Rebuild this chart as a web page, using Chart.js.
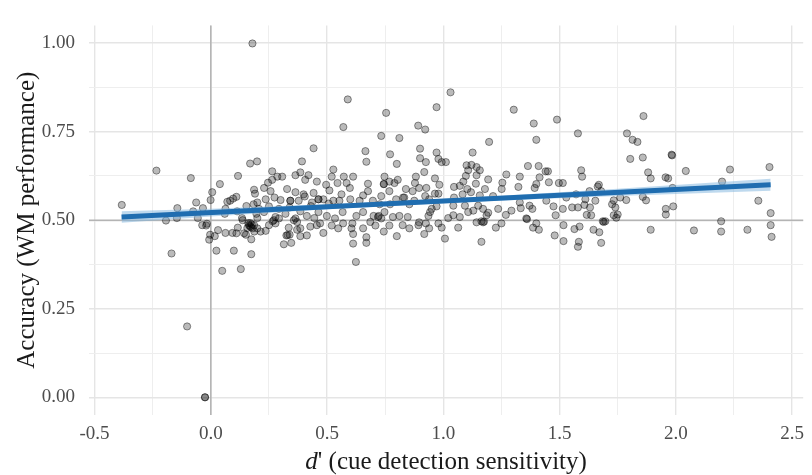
<!DOCTYPE html>
<html>
<head>
<meta charset="utf-8">
<script src="https://cdn.jsdelivr.net/npm/chart.js@4"></script>
<style>
  html, body { margin: 0; padding: 0; background: #fff; }
  #wrap { width: 812px; height: 475px; }
</style>
</head>
<body>
<div id="wrap"><canvas id="chart" width="812" height="475"></canvas></div>
<script>
// ---- data: [d', accuracy] per participant ----
const participants = [
  [-0.383,0.543],[-0.234,0.640],[-0.086,0.619],[-0.144,0.534],[-0.193,0.499],[-0.146,0.506],[-0.063,0.550],[-0.076,0.525],
  [-0.034,0.534],[-0.056,0.506],[-0.037,0.486],[-0.017,0.490],[-0.020,0.485],[0.006,0.579],[-0.001,0.557],[0.039,0.602],
  [-0.169,0.406],[0.024,0.414],[0.099,0.414],[0.174,0.404],[0.049,0.357],[0.129,0.362],[-0.003,0.459],[-0.007,0.445],
  [0.017,0.455],[0.031,0.472],[0.063,0.464],[0.093,0.464],[0.110,0.463],[0.116,0.479],[0.143,0.463],[0.151,0.459],
  [0.174,0.446],[0.187,0.468],[0.164,0.486],[0.173,0.480],[0.180,0.477],[0.161,0.492],[0.134,0.506],[0.137,0.500],
  [0.113,0.525],[0.060,0.518],[0.071,0.552],[0.083,0.555],[0.096,0.561],[0.110,0.566],[0.063,0.532],[0.117,0.625],
  [0.169,0.660],[0.199,0.666],[0.186,0.586],[0.190,0.575],[0.184,0.545],[0.153,0.540],[0.200,0.550],[0.196,0.518],
  [0.200,0.506],[0.186,0.486],[0.200,0.477],[0.168,0.483],[0.176,0.488],[0.170,0.492],[0.157,0.478],
  [0.179,0.999],[-0.102,0.200],[-0.025,0.000],[-0.025,0.000],
  [0.589,0.841],[0.754,0.803],[0.570,0.763],[0.892,0.767],[0.922,0.756],
  [0.733,0.738],[0.811,0.732],[0.442,0.703],[0.392,0.666],[0.665,0.695],[0.669,0.665],[0.771,0.686],[0.800,0.659],
  [0.900,0.702],[0.900,0.675],[0.925,0.664],[0.918,0.636],[0.264,0.638],
  [0.286,0.623],[0.307,0.623],[0.246,0.606],[0.264,0.614],[0.229,0.591],[0.364,0.627],[0.385,0.635],[0.406,0.614],
  [0.420,0.627],[0.456,0.609],[0.527,0.643],[0.520,0.623],[0.572,0.623],[0.612,0.623],[0.584,0.605],[0.545,0.605],
  [0.496,0.600],[0.510,0.584],[0.598,0.591],[0.676,0.603],[0.676,0.582],[0.747,0.623],[0.744,0.602],[0.768,0.609],
  [0.790,0.605],[0.804,0.614],[0.768,0.582],[0.839,0.588],[0.882,0.623],[0.878,0.605],[0.868,0.582],[0.896,0.591],
  [0.927,0.591],[0.922,0.568],[0.827,0.564],[0.733,0.568],
  [0.236,0.559],[0.257,0.582],[0.274,0.564],[0.300,0.557],[0.328,0.588],[0.342,0.555],[0.364,0.579],[0.378,0.555],
  [0.399,0.573],[0.442,0.577],[0.463,0.559],[0.435,0.550],[0.484,0.559],[0.527,0.555],[0.562,0.573],[0.553,0.555],
  [0.600,0.559],[0.640,0.555],[0.655,0.570],[0.697,0.555],[0.726,0.545],[0.771,0.545],[0.797,0.559],[0.832,0.564],
  [0.854,0.545],[0.875,0.555],[0.939,0.559],
  [0.207,0.532],[0.229,0.523],[0.250,0.539],[0.278,0.509],[0.293,0.532],[0.321,0.518],[0.339,0.536],[0.364,0.505],
  [0.371,0.495],[0.385,0.525],[0.413,0.512],[0.445,0.506],[0.463,0.523],[0.470,0.491],[0.499,0.512],[0.534,0.505],
  [0.567,0.523],[0.569,0.491],[0.609,0.491],[0.626,0.512],[0.655,0.523],[0.686,0.495],[0.722,0.512],[0.747,0.523],
  [0.783,0.509],[0.811,0.512],[0.847,0.509],[0.896,0.494],[0.925,0.491],[0.936,0.512],
  [0.236,0.470],[0.214,0.468],[0.250,0.486],[0.335,0.479],[0.371,0.473],[0.339,0.459],[0.325,0.457],[0.385,0.455],
  [0.413,0.457],[0.456,0.486],[0.484,0.464],[0.314,0.432],[0.346,0.436],[0.385,0.477],[0.428,0.482],[0.520,0.485],
  [0.548,0.477],[0.605,0.477],[0.612,0.461],[0.655,0.477],[0.669,0.452],[0.669,0.436],[0.612,0.434],[0.624,0.382],
  [0.708,0.485],[0.744,0.468],[0.768,0.485],[0.800,0.455],[0.825,0.486],[0.854,0.477],[0.893,0.486],[0.918,0.461],
  [0.939,0.477],[0.271,0.500],[0.293,0.505],[0.278,0.491],[0.342,0.555],[0.463,0.559],[0.719,0.509],[0.744,0.602],
  [0.266,0.497],[0.330,0.458],[0.357,0.500],[0.404,0.567],[0.430,0.540],[0.507,0.547],[0.700,0.512],[0.733,0.505],
  [1.031,0.861],[0.971,0.819],[1.303,0.812],[1.389,0.773],[1.489,0.784],[1.579,0.745],[1.400,0.727],[1.197,0.721],
  [0.971,0.691],[0.979,0.673],[0.993,0.664],[1.011,0.664],[1.126,0.691],[1.100,0.655],[1.121,0.656],[1.143,0.650],
  [1.157,0.641],[1.107,0.641],[1.097,0.625],[1.143,0.627],[1.086,0.609],[1.071,0.597],[1.046,0.594],[1.103,0.588],
  [1.119,0.579],[1.140,0.603],[1.179,0.588],[1.193,0.615],[0.964,0.618],[0.983,0.600],[0.964,0.575],[0.979,0.575],
  [1.046,0.564],[1.083,0.573],[1.157,0.570],[1.214,0.568],[1.254,0.606],[1.271,0.629],[1.251,0.588],[1.329,0.623],
  [1.323,0.594],[1.364,0.653],[1.410,0.653],[1.440,0.638],[1.450,0.638],[1.414,0.621],[1.400,0.602],[1.393,0.591],
  [1.454,0.607],[1.497,0.605],[1.514,0.605],[1.593,0.641],[1.597,0.623],[1.571,0.573],[1.629,0.582],[1.664,0.595],
  [1.679,0.582],[1.529,0.564],[1.611,0.559],
  [0.950,0.532],[0.971,0.539],[0.943,0.523],[1.043,0.541],[1.043,0.514],[1.021,0.506],[1.071,0.509],[1.093,0.541],
  [1.107,0.523],[1.129,0.527],[1.150,0.541],[1.171,0.532],[1.186,0.514],[1.164,0.497],[1.193,0.521],[1.236,0.532],
  [1.269,0.515],[1.293,0.527],[1.329,0.550],[1.333,0.534],[1.371,0.541],[1.383,0.532],[1.357,0.505],[1.360,0.503],
  [1.443,0.555],[1.474,0.539],[1.483,0.514],[1.514,0.532],[1.554,0.536],[1.579,0.536],[1.607,0.543],[1.631,0.536],
  [1.636,0.514],[1.617,0.515],[1.654,0.555],[1.669,0.600],
  [0.979,0.491],[0.993,0.479],[1.007,0.448],[1.064,0.479],[1.143,0.494],[1.171,0.494],[1.175,0.496],[1.164,0.439],
  [1.226,0.479],[1.250,0.491],[1.386,0.479],[1.400,0.491],[1.411,0.473],[1.479,0.457],[1.517,0.486],[1.517,0.441],
  [1.564,0.475],[1.586,0.482],[1.583,0.439],[1.579,0.425],[1.646,0.473],[1.671,0.466],[1.679,0.436],[1.686,0.497],
  [1.861,0.794],[1.790,0.745],[1.814,0.727],[1.835,0.721],[1.982,0.685],[1.984,0.683],[1.804,0.673],[1.858,0.677],
  [1.881,0.635],[1.892,0.618],[1.956,0.621],[1.967,0.618],[2.043,0.639],[2.233,0.643],[2.403,0.650],[2.199,0.609],
  [1.986,0.591],[1.761,0.564],[1.787,0.557],[1.733,0.556],[1.726,0.545],[1.740,0.536],[1.858,0.566],[1.872,0.556],
  [1.989,0.539],[1.957,0.532],[1.957,0.516],[2.355,0.555],[2.408,0.520],[2.408,0.486],[2.412,0.453],[2.195,0.497],
  [2.195,0.468],[2.308,0.473],[2.078,0.471],[1.892,0.473],[1.733,0.514],[1.750,0.516],[1.744,0.507],[1.690,0.495],
  [1.697,0.497]
];

// linear fit and its confidence band
const fitX = [-0.384, 2.408];
const fitY = [0.509, 0.600];
const bandX  = [-0.384, 0, 0.5, 0.85, 1.25, 1.75, 2.408];
const bandLo = [0.493, 0.5105, 0.5308, 0.5432, 0.5553, 0.5686, 0.583];
const bandHi = [0.525, 0.5325, 0.5448, 0.5552, 0.5693, 0.5886, 0.617];

// axes
const xMajor = [-0.5, 0, 0.5, 1, 1.5, 2, 2.5];
const xMajorLabels = ["-0.5", "0.0", "0.5", "1.0", "1.5", "2.0", "2.5"];
const xMinor = [-0.25, 0.25, 0.75, 1.25, 1.75, 2.25];
const yMajor = [0, 0.25, 0.5, 0.75, 1];
const yMajorLabels = ["0.00", "0.25", "0.50", "0.75", "1.00"];
const yMinor = [0.125, 0.375, 0.625, 0.875];
const xRange = [-0.524, 2.548];
const yRange = [-0.05, 1.05];
const refX = 0;
const refY = 0.5;

const xTitleParts = ["d", "' (cue detection sensitivity)"];
const yTitle = "Accuracy (WM performance)";

const SERIF = "'Liberation Serif', 'Times New Roman', serif";

const findIdx = (arr, v) => arr.findIndex(m => Math.abs(m - v) < 1e-9);
const xy = (xs, ys) => xs.map((x, i) => ({ x: x, y: ys[i] }));

// reference lines at d' = 0 and accuracy = .5 (behind the points)
const refLines = {
  id: "refLines",
  beforeDatasetsDraw(chart) {
    const { ctx, chartArea: a, scales } = chart;
    const px = scales.x.getPixelForValue(refX);
    const py = scales.y.getPixelForValue(refY);
    ctx.save();
    ctx.strokeStyle = "#b4b4b4";
    ctx.lineWidth = 1.6;
    ctx.beginPath();
    ctx.moveTo(px, a.top); ctx.lineTo(px, a.bottom);
    ctx.moveTo(a.left, py); ctx.lineTo(a.right, py);
    ctx.stroke();
    ctx.restore();
  }
};

// x title with italic d
const xTitle = {
  id: "xTitle",
  afterDraw(chart) {
    const { ctx, chartArea: a } = chart;
    ctx.save();
    ctx.fillStyle = "#1a1a1a";
    ctx.textBaseline = "middle";
    ctx.font = "italic 25px " + SERIF;
    const w1 = ctx.measureText(xTitleParts[0]).width;
    ctx.font = "25px " + SERIF;
    const w2 = ctx.measureText(xTitleParts[1]).width;
    let x0 = (a.left + a.right) / 2 - (w1 + w2) / 2;
    const y0 = chart.scales.x.bottom - 13;
    ctx.font = "italic 25px " + SERIF;
    ctx.fillText(xTitleParts[0], x0, y0);
    ctx.font = "25px " + SERIF;
    ctx.fillText(xTitleParts[1], x0 + w1, y0);
    ctx.restore();
  }
};

new Chart(document.getElementById("chart"), {
  type: "scatter",
  data: {
    datasets: [
      {
        type: "line",
        data: xy(fitX, fitY),
        borderColor: "#1f6db0",
        borderWidth: 5,
        pointRadius: 0,
        fill: false,
        order: 0
      },
      {
        type: "line",
        data: xy(bandX, bandLo),
        borderWidth: 0,
        pointRadius: 0,
        fill: false,
        order: 1
      },
      {
        type: "line",
        data: xy(bandX, bandHi),
        borderWidth: 0,
        pointRadius: 0,
        backgroundColor: "rgba(125,180,222,0.5)",
        fill: "-1",
        order: 1
      },
      {
        data: participants.map(p => ({ x: p[0], y: p[1] })),
        backgroundColor: "rgba(0,0,0,0.27)",
        borderColor: "rgba(0,0,0,0.42)",
        borderWidth: 1,
        pointRadius: 3.6,
        order: 2
      }
    ]
  },
  options: {
    responsive: false,
    animation: false,
    layout: { padding: { top: 9, right: 0, bottom: 0, left: 0 } },
    plugins: { legend: { display: false }, tooltip: { enabled: false } },
    scales: {
      x: {
        type: "linear",
        min: xRange[0],
        max: xRange[1],
        afterBuildTicks: s => {
          s.ticks = xMajor.concat(xMinor).sort((a, b) => a - b).map(v => ({ value: v }));
        },
        afterFit: s => { s.height = 60; },
        border: { display: false },
        grid: {
          drawTicks: false,
          tickLength: 0,
          color: c => findIdx(xMajor, c.tick.value) >= 0 ? "#e5e5e5" : "#eeeeee",
          lineWidth: c => findIdx(xMajor, c.tick.value) >= 0 ? 1.4 : 1
        },
        ticks: {
          autoSkip: false,
          maxRotation: 0,
          padding: 8,
          color: "#4d4d4d",
          font: { family: SERIF, size: 19 },
          callback: v => {
            const i = findIdx(xMajor, v);
            return i >= 0 ? xMajorLabels[i] : "";
          }
        }
      },
      y: {
        type: "linear",
        min: yRange[0],
        max: yRange[1],
        afterBuildTicks: s => {
          s.ticks = yMajor.concat(yMinor).sort((a, b) => a - b).map(v => ({ value: v }));
        },
        afterFit: s => { s.width = 89; },
        border: { display: false },
        grid: {
          drawTicks: false,
          tickLength: 0,
          color: c => findIdx(yMajor, c.tick.value) >= 0 ? "#e5e5e5" : "#eeeeee",
          lineWidth: c => findIdx(yMajor, c.tick.value) >= 0 ? 1.4 : 1
        },
        ticks: {
          autoSkip: false,
          padding: 14,
          color: "#4d4d4d",
          font: { family: SERIF, size: 19 },
          callback: v => {
            const i = findIdx(yMajor, v);
            return i >= 0 ? yMajorLabels[i] : "";
          }
        },
        title: {
          display: true,
          text: yTitle,
          color: "#1a1a1a",
          font: { family: SERIF, size: 25 },
          padding: { top: 12, bottom: 0 }
        }
      }
    }
  },
  plugins: [refLines, xTitle]
});
</script>
</body>
</html>
